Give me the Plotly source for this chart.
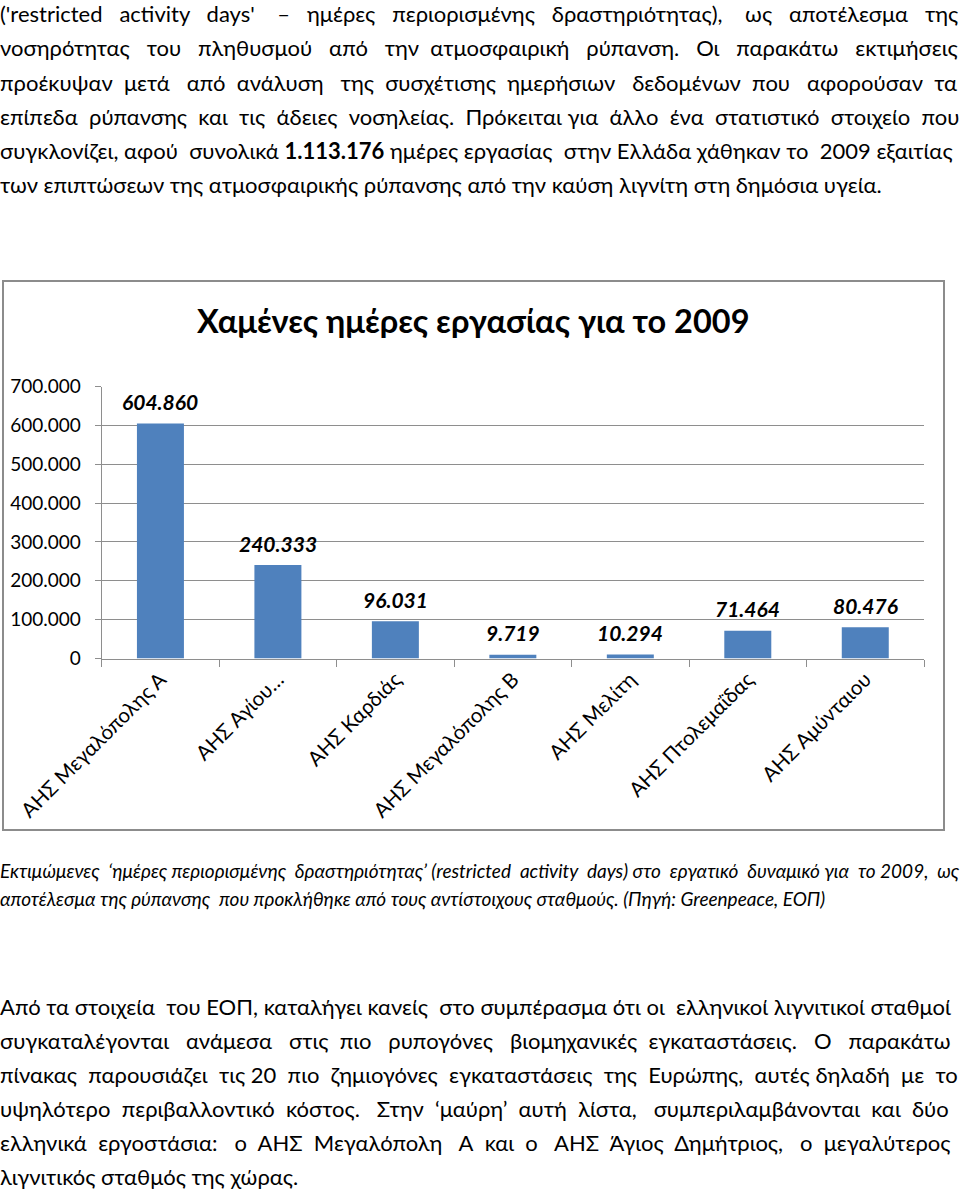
import plotly.graph_objects as go

W, H = 960, 1192

# ---------------- data ----------------
stations = ["ΑΗΣ Μεγαλόπολης Α", "ΑΗΣ Αγίου…", "ΑΗΣ Καρδιάς", "ΑΗΣ Μεγαλόπολης Β",
            "ΑΗΣ Μελίτη", "ΑΗΣ Πτολεμαΐδας", "ΑΗΣ Αμύνταιου"]
lost_days = [604860, 240333, 96031, 9719, 10294, 71464, 80476]
y_ticks = [0, 100000, 200000, 300000, 400000, 500000, 600000, 700000]

chart_title = "Χαμένες ημέρες εργασίας για το 2009"

para_top = [
    "('restricted activity days' – ημέρες περιορισμένης δραστηριότητας), ως αποτέλεσμα της",
    "νοσηρότητας του πληθυσμού από την ατμοσφαιρική ρύπανση. Οι παρακάτω εκτιμήσεις",
    "προέκυψαν μετά από ανάλυση της συσχέτισης ημερήσιων δεδομένων που αφορούσαν τα",
    "επίπεδα ρύπανσης και τις άδειες νοσηλείας. Πρόκειται για άλλο ένα στατιστικό στοιχείο που",
    "συγκλονίζει, αφού συνολικά <b>1.113.176</b> ημέρες εργασίας στην Ελλάδα χάθηκαν το 2009 εξαιτίας",
    "των επιπτώσεων της ατμοσφαιρικής ρύπανσης από την καύση λιγνίτη στη δημόσια υγεία.",
]
para_top_extra = [20, 17, 14, 11, 3, 0]

caption = [
    "Εκτιμώμενες ‘ημέρες περιορισμένης δραστηριότητας’ (restricted activity days) στο εργατικό δυναμικό για το 2009, ως",
    "αποτέλεσμα της ρύπανσης  που προκλήθηκε από τους αντίστοιχους σταθμούς. (Πηγή: Greenpeace, ΕΟΠ)",
]
caption_extra = [8, 0]

para_bottom = [
    "Από τα στοιχεία του ΕΟΠ, καταλήγει κανείς στο συμπέρασμα ότι οι ελληνικοί λιγνιτικοί σταθμοί",
    "συγκαταλέγονται ανάμεσα στις πιο ρυπογόνες βιομηχανικές εγκαταστάσεις. Ο παρακάτω",
    "πίνακας παρουσιάζει τις 20 πιο ζημιογόνες εγκαταστάσεις της Ευρώπης, αυτές δηλαδή με το",
    "υψηλότερο περιβαλλοντικό κόστος. Στην ‘μαύρη’ αυτή λίστα, συμπεριλαμβάνονται και δύο",
    "ελληνικά εργοστάσια: ο ΑΗΣ Μεγαλόπολη Α και ο ΑΗΣ Άγιος Δημήτριος, ο μεγαλύτερος",
    "λιγνιτικός σταθμός της χώρας.",
]
para_bottom_extra = [3, 14, 10, 11, 16, 0]

# ---------------- styling ----------------
FONT = "Lato, 'Open Sans', sans-serif"
BAR = "#4F81BD"
GRID = "#8E8E8E"
BODY_SIZE = 22
CAP_SIZE = 19


def py(p):
    return 1 - p / H


def justify(line, extra):
    words = line.split(" ")
    gaps = len(words) - 1
    if gaps <= 0 or extra <= 0:
        return line
    out = words[0]
    for i, w in enumerate(words[1:]):
        n = round((i + 1) * extra / gaps) - round(i * extra / gaps)
        out += " " + "\u00a0" * n + w
    return out


fig = go.Figure()
fig.add_trace(go.Bar(x=stations, y=lost_days, marker_color=BAR, marker_line_width=0,
                     hoverinfo="skip"))

annotations = []
# value labels
for s, v in zip(stations, lost_days):
    annotations.append(dict(x=s, y=v, xref="x", yref="y", text=f"{v:,}".replace(",", "."),
                            showarrow=False, yshift=22, yanchor="middle",
                            font=dict(family=FONT, size=21, color="black", weight="bold", style="italic")))

# chart title
annotations.append(dict(x=473 / W, y=py(320), xref="paper", yref="paper", text=chart_title,
                        showarrow=False, xanchor="center", yanchor="middle",
                        font=dict(family=FONT, size=32.5, color="black", weight="bold")))


def add_lines(lines, extras, y0, step, size, style="normal"):
    for i, (ln, ex) in enumerate(zip(lines, extras)):
        annotations.append(dict(x=0, y=py(y0 + i * step), xref="paper", yref="paper",
                                text=justify(ln, ex), showarrow=False, xanchor="left",
                                yanchor="middle", borderpad=0, borderwidth=0,
                                font=dict(family=FONT, size=size, color="black", style=style)))


add_lines(para_top, para_top_extra, 14, 34, BODY_SIZE)
add_lines(caption, caption_extra, 870, 28, CAP_SIZE, style="italic")
add_lines(para_bottom, para_bottom_extra, 1006, 34, BODY_SIZE)

fig.update_layout(
    width=W, height=H, margin=dict(l=0, r=0, t=0, b=0),
    paper_bgcolor="white", plot_bgcolor="white",
    separators=",.",
    showlegend=False, bargap=0.6,
    annotations=annotations,
    shapes=[dict(type="rect", xref="paper", yref="paper", x0=3 / W, x1=944 / W,
                 y0=py(830), y1=py(281), line=dict(color="#8C8C8C", width=2), layer="below")],
    xaxis=dict(domain=[101.7 / W, 924 / W], showgrid=False, showline=True, linecolor=GRID,
               linewidth=1, ticks="outside", tickson="boundaries", ticklen=7, tickcolor=GRID,
               tickangle=-45, automargin=False,
               tickfont=dict(family=FONT, size=20.5, color="black")),
    yaxis=dict(domain=[py(658.5), py(386.5)], range=[0, 700000], tickvals=y_ticks,
               tickformat=",d", showgrid=True, gridcolor=GRID, gridwidth=1, zeroline=False,
               showline=True, linecolor=GRID, linewidth=1, ticks="outside", ticklen=6,
               tickcolor=GRID, automargin=False, ticklabelstandoff=10,
               tickfont=dict(family=FONT, size=19, color="black")),
)

fig.write_html("out.html")
